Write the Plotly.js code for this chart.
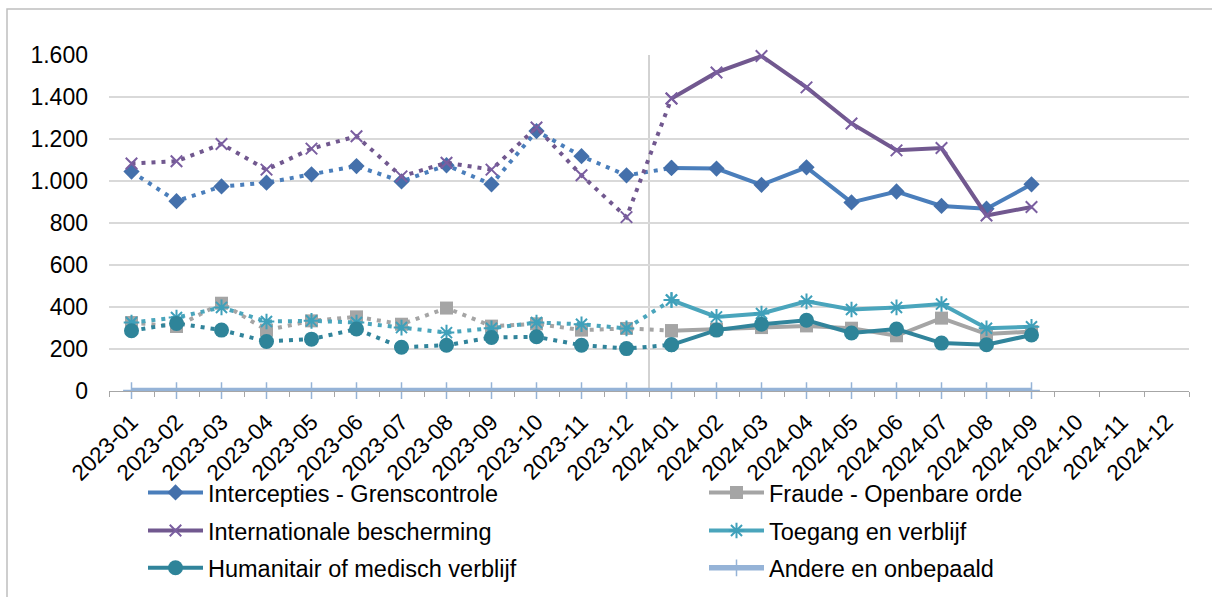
<!DOCTYPE html>
<html>
<head>
<meta charset="utf-8">
<script src="https://cdn.plot.ly/plotly-3.0.1.min.js"></script>
<style>
html,body{margin:0;padding:0;background:#fff;}
#chart{width:1212px;height:597px;}
</style>
</head>
<body>
<div id="chart"></div>
<script>
// Categories (months)
const months = ["2023-01","2023-02","2023-03","2023-04","2023-05","2023-06","2023-07","2023-08","2023-09","2023-10","2023-11","2023-12",
                "2024-01","2024-02","2024-03","2024-04","2024-05","2024-06","2024-07","2024-08","2024-09","2024-10","2024-11","2024-12"];

// Series values (2023-01 .. 2024-09)
const intercepties   = [1045, 904, 974, 992, 1032, 1071, 998, 1075, 984, 1238, 1118, 1027, 1062, 1059, 982, 1065, 898, 950, 881, 868, 984];
const fraude         = [326, 307, 418, 290, 334, 353, 318, 395, 309, 320, 290, 298, 287, 295, 302, 310, 299, 263, 347, 271, 283];
const internationale = [1083, 1094, 1176, 1054, 1154, 1213, 1022, 1087, 1054, 1255, 1027, 828, 1393, 1517, 1595, 1446, 1274, 1146, 1157, 836, 876];
const toegang        = [326, 350, 398, 331, 334, 326, 302, 278, 299, 326, 318, 298, 433, 353, 369, 427, 388, 398, 414, 299, 306];
const humanitair     = [287, 322, 290, 236, 247, 295, 208, 218, 255, 258, 218, 202, 220, 290, 318, 337, 276, 295, 228, 220, 267];
const andere         = [2, 2, 2, 2, 2, 2, 2, 2, 2, 2, 2, 2, 2, 2, 2, 2, 2, 2, 2, 2, 2];

const seriesNames = ["Intercepties - Grenscontrole", "Fraude - Openbare orde", "Internationale bescherming",
                     "Toegang en verblijf", "Humanitair of medisch verblijf", "Andere en onbepaald"];

const FONT = "Liberation Sans, Arial, sans-serif";
const SPLIT = 12; // index of 2024-01

const styles = [
  {data: intercepties,   line: "#4A7EBB", mcolor: "#4470AB", symbol: "diamond",      size: 12.5, mline: 0},
  {data: fraude,         line: "#A5A5A5", mcolor: "#A5A5A5", symbol: "square",       size: 13,   mline: 0},
  {data: internationale, line: "#71588F", mcolor: "#7A5EA0", symbol: "x-thin-open",  size: 11.5, mline: 2},
  {data: toegang,        line: "#4AA5BC", mcolor: "#3FA0BA", symbol: "asterisk-open",size: 13,   mline: 2},
  {data: humanitair,     line: "#31849B", mcolor: "#2E8499", symbol: "circle",       size: 15,   mline: 0},
];
const legendIds = ["legend", "legend2", "legend3", "legend4", "legend5", "legend6"];

const traces = [];
styles.forEach((s, i) => {
  const n = s.data.length;
  const marker = {symbol: s.symbol, size: s.size, color: s.mcolor,
                  line: {color: s.mcolor, width: s.mline}};
  // 2023 part (dotted), running into 2024-01
  traces.push({
    type: "scatter", mode: "lines+markers",
    x: months.slice(0, SPLIT + 1), y: s.data.slice(0, SPLIT + 1),
    line: {color: s.line, width: 4, dash: "4px,6px"},
    marker: marker, showlegend: false, cliponaxis: false, hoverinfo: "skip"
  });
  // 2024 part (solid)
  traces.push({
    type: "scatter", mode: "lines+markers", name: seriesNames[i],
    x: months.slice(SPLIT, n), y: s.data.slice(SPLIT, n),
    line: {color: s.line, width: 4},
    marker: marker, legend: legendIds[i], cliponaxis: false
  });
});
traces.push({
  type: "scatter", mode: "lines+markers", name: seriesNames[5],
  x: months.slice(0, andere.length), y: andere,
  line: {color: "#95B3D7", width: 5.5},
  marker: {symbol: "cross-thin", size: 12, color: "#95B3D7", line: {color: "#95B3D7", width: 1.5}},
  legend: legendIds[5], cliponaxis: false
});

const plotL = 109, plotT = 55, plotW = 1080, plotH = 336;
const px2x = p => (p - plotL) / plotW;
const py2y = p => (plotT + plotH - p) / plotH;

function legendAt(colX, rowY) {
  return {
    orientation: "h", x: px2x(colX), xanchor: "left", y: py2y(rowY), yanchor: "middle",
    itemwidth: 55,
    font: {family: FONT, size: 23.5, color: "#000"},
    bgcolor: "rgba(0,0,0,0)", borderwidth: 0, traceorder: "normal"
  };
}

const layout = {
  width: 1212, height: 597,
  margin: {l: plotL, r: 1212 - plotL - plotW, t: plotT, b: 597 - plotT - plotH, pad: 0, autoexpand: false},
  paper_bgcolor: "#fff", plot_bgcolor: "#fff",
  separators: ",.",
  font: {family: FONT, size: 23, color: "#000"},
  xaxis: {
    type: "category", categoryorder: "array", categoryarray: months,
    range: [-0.5, 23.5], tickson: "boundaries", ticks: "outside", ticklen: 5,
    tickcolor: "#A6A6A6", tickwidth: 1, showline: true, linecolor: "#A6A6A6", linewidth: 1,
    showgrid: false, zeroline: false, tickangle: -45, ticklabelstandoff: 8, automargin: false,
    tickfont: {family: FONT, size: 22.5, color: "#000"}, fixedrange: true
  },
  yaxis: {
    range: [0, 1600], dtick: 200, tick0: 0, tickformat: ",d",
    showgrid: true, gridcolor: "#D9D9D9", gridwidth: 1.5, zeroline: false,
    showline: false, ticks: "", ticklabelstandoff: 20, automargin: false,
    tickfont: {family: FONT, size: 23, color: "#000"}, fixedrange: true
  },
  legend:  legendAt(143, 492.7),
  legend2: legendAt(704, 492.7),
  legend3: legendAt(143, 530.7),
  legend4: legendAt(704, 530.7),
  legend5: legendAt(143, 568),
  legend6: legendAt(704, 568),
  shapes: [
    {type: "line", xref: "x", yref: "paper", x0: 11.5, x1: 11.5, y0: 0, y1: 1,
     line: {color: "#A6A6A6", width: 1}, layer: "below"},
    {type: "rect", xref: "paper", yref: "paper",
     x0: px2x(7), x1: px2x(1300), y0: py2y(700), y1: py2y(9),
     line: {color: "#BFBFBF", width: 1.5}, fillcolor: "rgba(0,0,0,0)", layer: "below"}
  ],
  showlegend: true
};

Plotly.newPlot("chart", traces, layout, {displayModeBar: false, responsive: false, staticPlot: true});
</script>
</body>
</html>
